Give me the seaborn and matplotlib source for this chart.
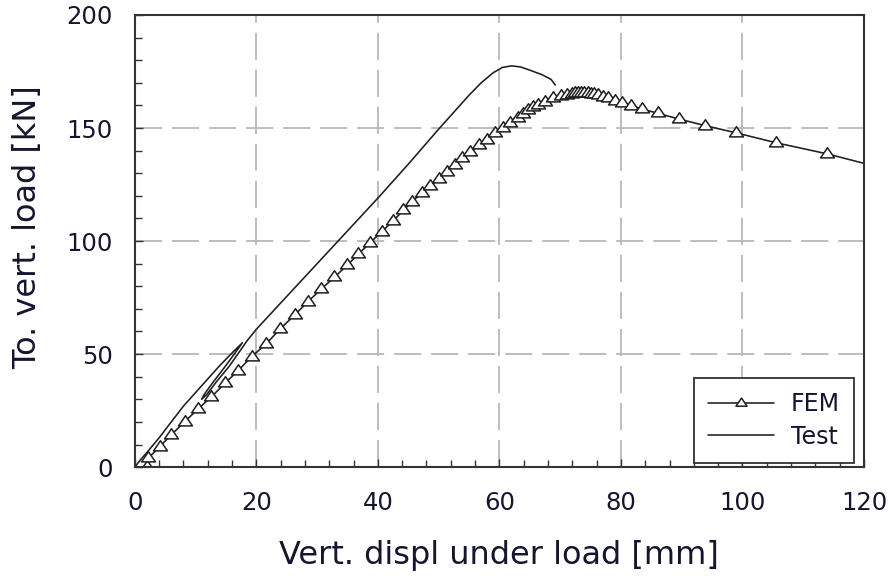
import numpy as np
import pandas as pd
import matplotlib
matplotlib.use("Agg")
import matplotlib.pyplot as plt
import seaborn as sns
from matplotlib.ticker import MultipleLocator
from matplotlib.path import Path

# FEM curve (displacement mm, load kN)
fem_x = [2.0, 2.2, 4.1, 6.0, 8.2, 10.4, 12.6, 14.8, 17.0, 19.2, 21.6, 23.9, 26.3, 28.5,
         30.6, 32.8, 34.9, 36.8, 38.7, 40.6, 42.5, 44.2, 45.6, 47.2, 48.6, 50.0, 51.3,
         52.7, 53.8, 55.2, 56.6, 57.9, 59.3, 60.6, 61.7, 63.0, 63.9, 64.7, 65.5, 66.4,
         67.5, 68.9, 70.2, 71.2, 71.9, 72.5, 73.0, 73.5, 74.0, 74.5, 75.0, 75.6, 76.2,
         77.0, 77.9, 79.0, 80.1, 81.6, 83.5, 86.1, 89.5, 93.8, 98.9, 105.5, 113.9, 124.0]
fem_y = [0.0, 3.9, 9.1, 14.3, 20.1, 25.7, 31.1, 37.0, 42.7, 48.8, 54.5, 61.1, 67.3, 73.2,
         78.6, 83.9, 89.2, 94.3, 99.2, 104.1, 108.9, 113.6, 117.4, 121.1, 124.2, 127.3, 130.7,
         133.7, 136.6, 139.3, 142.3, 144.8, 147.7, 150.0, 152.1, 154.3, 156.2, 157.8, 159.3, 160.3,
         161.7, 163.2, 164.3, 164.8, 165.1, 165.3, 165.4, 165.4, 165.4, 165.3, 165.2, 164.9, 164.5,
         163.9, 163.1, 162.1, 161.1, 159.9, 158.4, 156.5, 154.0, 151.1, 147.9, 143.5, 138.6, 131.6]

# Test curve (with unloading/reloading loop)
test_x = [0.0, 1.0, 2.0, 4.0, 6.0, 8.0, 10.0, 12.0, 14.0, 16.0, 17.7,
          16.5, 15.0, 13.0, 11.5, 11.0, 11.8, 13.5, 15.5, 17.2, 18.5,
          20.0, 25.0, 30.0, 35.0, 40.0, 45.0, 50.0, 53.0, 55.0, 57.0, 59.0,
          60.5, 62.0, 63.5, 65.0, 67.0, 68.5, 69.2]
test_y = [0.0, 3.5, 6.5, 13.0, 20.0, 27.0, 33.0, 39.0, 45.0, 50.5, 55.0,
          50.5, 45.0, 38.0, 32.5, 30.0, 32.0, 38.0, 44.5, 51.0, 56.0,
          61.0, 75.5, 90.0, 104.5, 119.0, 134.0, 149.5, 158.5, 164.5, 170.0, 174.5,
          176.8, 177.5, 177.0, 175.6, 173.6, 171.5, 169.0]

x_ticks = [0, 20, 40, 60, 80, 100, 120]
y_ticks = [0, 50, 100, 150, 200]

sns.set_style("white")
plt.rcParams['font.family'] = ['DejaVu Sans']

TXT = "#15152e"
LN = "#1e1e1e"

# flat triangle marker centred on its centroid
tri = Path([(0, 6.2), (-6.35, -3.1), (6.35, -3.1), (0, 6.2)],
           [Path.MOVETO, Path.LINETO, Path.LINETO, Path.CLOSEPOLY])

fig = plt.figure(figsize=(8.93, 5.76), dpi=100)
ax = fig.add_axes([0.151, 0.189, 0.8165, 0.785])

fem_df = pd.DataFrame({"x": fem_x, "y": fem_y})
test_df = pd.DataFrame({"x": test_x, "y": test_y})

sns.lineplot(data=fem_df, x="x", y="y", sort=False, estimator=None, ax=ax,
             color=LN, linewidth=1.15, marker=tri, markersize=10,
             markerfacecolor="white", markeredgecolor=LN, markeredgewidth=1.1,
             label="FEM")
sns.lineplot(data=test_df, x="x", y="y", sort=False, estimator=None, ax=ax,
             color=LN, linewidth=1.15, label="Test")

ax.set_xlim(0, 120)
ax.set_ylim(0, 200)
ax.set_xticks(x_ticks)
ax.set_yticks(y_ticks)
ax.xaxis.set_minor_locator(MultipleLocator(4))
ax.yaxis.set_minor_locator(MultipleLocator(10))
ax.tick_params(axis="both", which="both", direction="in", labelsize=17.5,
               color="#333333", labelcolor=TXT, bottom=True, left=True,
               top=False, right=False)
ax.tick_params(which="major", length=5.5, width=1.0)
ax.tick_params(which="minor", length=5, width=1.0)
ax.tick_params(axis="x", which="major", pad=17)
ax.tick_params(axis="y", which="major", pad=16)

ax.grid(True, which="major", color="#b8b8b8", linestyle=(0, (15, 5.5)), linewidth=1.3)
ax.set_axisbelow(True)
for s in ax.spines.values():
    s.set_visible(True)
    s.set_color("#333333")
    s.set_linewidth(1.5)

ax.set_xlabel("Vert. displ under load [mm]", fontsize=23, color=TXT, labelpad=18)
ax.set_ylabel("To. vert. load [kN]", fontsize=23, color=TXT)
ax.yaxis.set_label_coords(-0.126, 0.53)

leg = ax.legend(loc="lower right", fontsize=17, frameon=True, fancybox=False,
                edgecolor="#333333", framealpha=1, borderpad=0.6, handlelength=2.8,
                handletextpad=0.72, labelspacing=0.36, borderaxespad=0,
                bbox_to_anchor=(0.9863, 0.0095))
leg.get_frame().set_linewidth(1.3)
for t in leg.get_texts():
    t.set_color(TXT)
for h in leg.legend_handles:
    h.set_markersize(8)

fig.savefig("out.png", dpi=100)
